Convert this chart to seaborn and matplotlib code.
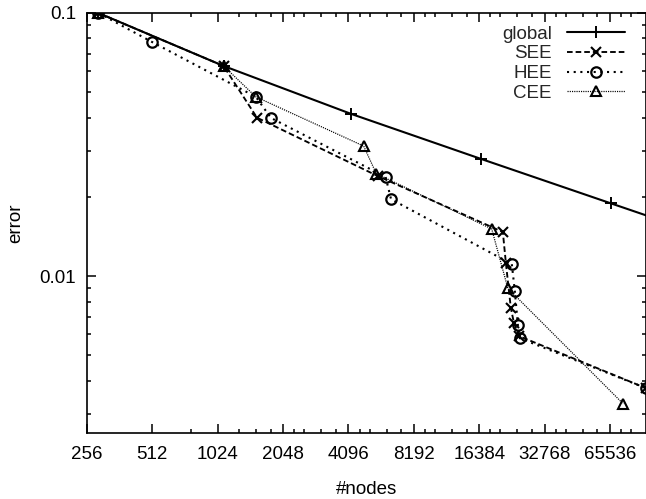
import matplotlib
matplotlib.use("Agg")
import matplotlib.pyplot as plt
from matplotlib.ticker import FixedLocator, FixedFormatter, NullFormatter
import pandas as pd
import seaborn as sns

# ---- data ----
global_nodes = [289, 1089, 4225, 16641, 66049, 263169]
global_err = [0.1, 0.0629, 0.0413, 0.0279, 0.0189, 0.0128]

see_nodes = [289, 1089, 1552, 5580, 21040, 21730, 22900, 23700, 25100, 95800]
see_err = [0.1, 0.0629, 0.0400, 0.0240, 0.0147, 0.0112, 0.00756, 0.00660, 0.0059, 0.00375]

hee_nodes = [289, 510, 1534, 1800, 6070, 6430, 23140, 23890, 24670, 25200, 95800]
hee_err = [0.1, 0.0776, 0.0480, 0.0399, 0.0238, 0.0196, 0.0111, 0.00877, 0.00654, 0.00580, 0.00375]

cee_nodes = [289, 1089, 1534, 4810, 5500, 18700, 22190, 75300]
cee_err = [0.1, 0.0629, 0.0480, 0.0312, 0.0245, 0.0151, 0.00898, 0.00327]

series_names = ["global", "SEE", "HEE", "CEE"]

x_major = [256, 512, 1024, 2048, 4096, 8192, 16384, 32768, 65536]
x_labels = ["256", "512", "1024", "2048", "4096", "8192", "16384", "32768", "65536"]
x_minor = [768, 1280, 1536, 1792,
           2304, 2560, 3072, 3584,
           4608, 5120, 6144, 7168,
           9216, 10240, 12288, 14336,
           18432, 20480, 24576, 28672,
           36864, 40960, 49152, 57344,
           73728, 81920]
y_major = [0.1, 0.01]
y_labels = ["0.1", "0.01"]
y_minor = [0.09, 0.08, 0.07, 0.06, 0.05, 0.04, 0.03, 0.02,
           0.009, 0.008, 0.007, 0.006, 0.005, 0.004, 0.003]

x_limits = (256, 96000)
y_limits = (0.00253, 0.1)

# ---- styling ----
sns.set_theme(style="ticks")
plt.rcParams["font.family"] = ["Liberation Sans", "DejaVu Sans"]
plt.rcParams["axes.linewidth"] = 1.2

FS = 13.5

fig = plt.figure(figsize=(6.46, 4.99), dpi=100)
ax = fig.add_axes([87 / 646, 66 / 499, 559 / 646, 420 / 499])
ax.set_xscale("log", base=2)
ax.set_yscale("log")

styles = {
    "global": dict(marker="+", markersize=9, mew=1.4, linestyle="-", lw=1.5),
    "SEE": dict(marker="x", markersize=7.5, mew=1.5, linestyle=(0, (3.0, 1.6)), lw=1.35),
    "HEE": dict(marker="o", markersize=7.5, mew=1.6, markerfacecolor="none",
                linestyle=(0, (1.0, 2.2)), lw=1.5),
    "CEE": dict(marker="^", markersize=7.5, mew=1.5, markerfacecolor="none",
                linestyle=(0, (0.9, 0.9)), lw=0.9),
}
data = {
    "global": (global_nodes, global_err),
    "SEE": (see_nodes, see_err),
    "HEE": (hee_nodes, hee_err),
    "CEE": (cee_nodes, cee_err),
}

for name in series_names:
    xs, ys = data[name]
    df = pd.DataFrame({"nodes": xs, "error": ys})
    sns.lineplot(data=df, x="nodes", y="error", ax=ax, color="black",
                 mec="black", sort=False, estimator=None, label=name,
                 **styles[name])

ax.set_xlim(*x_limits)
ax.set_ylim(*y_limits)

ax.xaxis.set_major_locator(FixedLocator(x_major))
ax.xaxis.set_major_formatter(FixedFormatter(x_labels))
ax.xaxis.set_minor_locator(FixedLocator(x_minor))
ax.xaxis.set_minor_formatter(NullFormatter())
ax.yaxis.set_major_locator(FixedLocator(y_major))
ax.yaxis.set_major_formatter(FixedFormatter(y_labels))
ax.yaxis.set_minor_locator(FixedLocator(y_minor))
ax.yaxis.set_minor_formatter(NullFormatter())

ax.tick_params(which="both", direction="in", top=True, right=True,
               colors="black", labelsize=FS, width=1.1)
ax.tick_params(which="major", length=6.5)
ax.tick_params(which="minor", length=3.0)
ax.tick_params(axis="x", which="major", pad=9.5)
ax.tick_params(axis="y", which="major", pad=8)

for sp in ax.spines.values():
    sp.set_color("black")

ax.set_xlabel("#nodes", fontsize=FS, color="black")
ax.set_ylabel("error", fontsize=FS, color="black")
ax.xaxis.set_label_coords(0.5, -0.114)
ax.yaxis.set_label_coords(-0.112, 0.5)

leg = ax.legend(loc="upper right", bbox_to_anchor=(0.9624, 0.97),
                markerfirst=False, frameon=False, fontsize=FS,
                handlelength=3.1, handletextpad=0.8, labelspacing=0.14,
                borderpad=0, borderaxespad=0)

fig.savefig("out.png", dpi=100)
